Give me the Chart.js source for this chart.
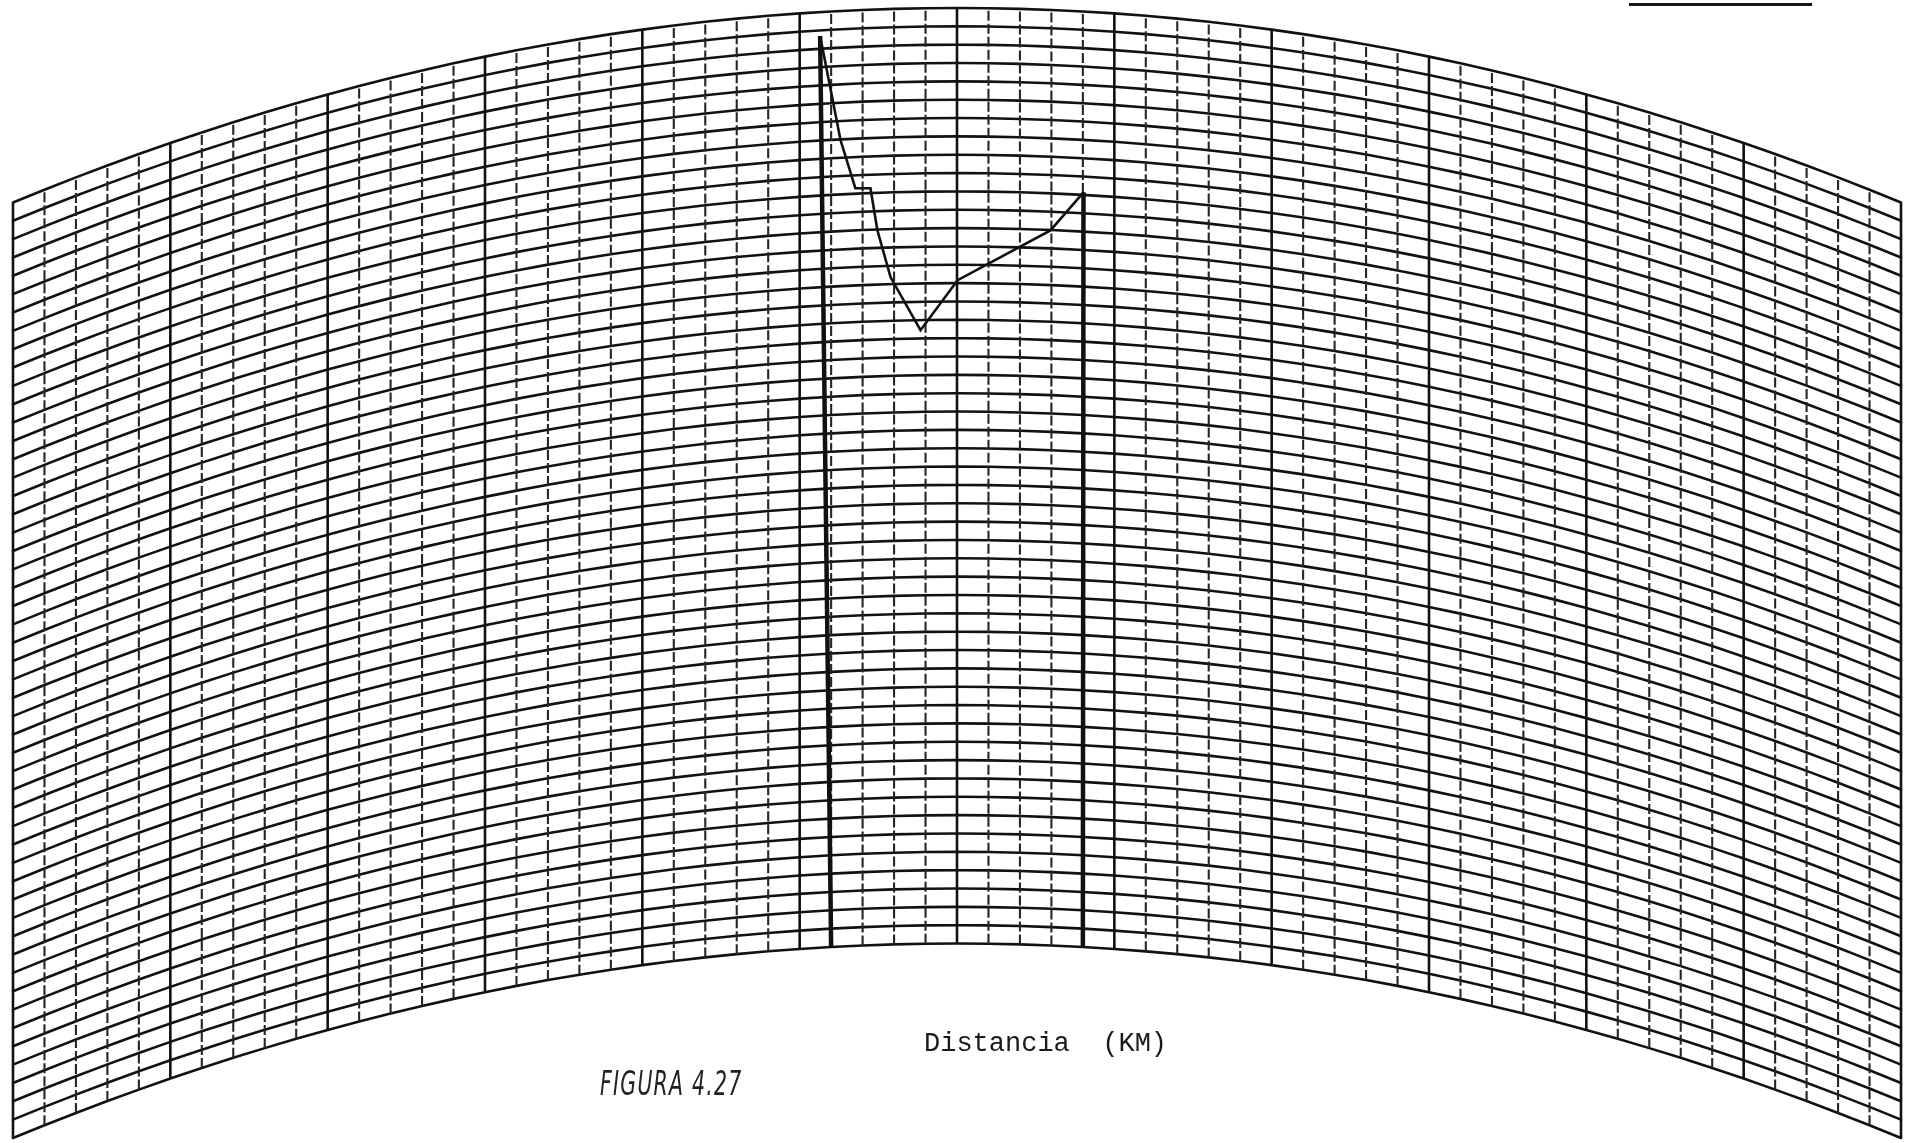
<!DOCTYPE html>
<html>
<head>
<meta charset="utf-8">
<script src="https://cdn.jsdelivr.net/npm/chart.js@4.4.1/dist/chart.umd.min.js"></script>
<style>
  html, body { margin: 0; padding: 0; background: #fff; }
  #wrap { position: relative; width: 1917px; height: 1143px; overflow: hidden; }
  .label { position: absolute; color: #1a1a1a; white-space: pre; line-height: 1; }
  #axisLabel { left: 924px; top: 1029px; font: 27px "Liberation Mono", "DejaVu Sans Mono", monospace; }
  #figLabel { left: 600px; top: 1064px; font: italic 33px "DejaVu Sans", sans-serif; letter-spacing: 2px;
              transform: scaleX(0.62); transform-origin: left top; color: #222; }
  #pageRule { position: absolute; left: 1629px; top: 3px; width: 183px; border-top: 3px solid #161616; }
</style>
</head>
<body>
<div id="wrap">
  <canvas id="profileChart"></canvas>
  <div id="pageRule"></div>
  <div class="label" id="axisLabel">Distancia  (KM)</div>
  <div class="label" id="figLabel">FIGURA 4.27</div>
</div>
<script>
// paper: 60 distance divisions, 51 height divisions, earth bulge at mid-path
const distanceCols = 60;
const heightRows = 51;
const bulgeRows = 10.6;

// terrain profile between the two stations (distance, height in paper rows)
const profileKm = [25.65, 26.3, 26.77, 27.25, 27.47, 27.89, 28.84, 30.02, 32.97, 34.02];
const profileHeight = [49.7, 43.95, 41.3, 41.26, 38.96, 36.37, 33.45, 36.16, 38.98, 41.14];

// station positions on the base line
const stationKm = [26, 34];

function bulge(d) {
  return bulgeRows * d * (distanceCols - d) / ((distanceCols / 2) ** 2);
}

const profilePoints = profileKm.map((d, i) => ({ x: d, y: profileHeight[i] + bulge(d) }));
const leftStation = [
  { x: stationKm[0], y: bulge(stationKm[0]) },
  profilePoints[0]
];
const rightStation = [
  { x: stationKm[1], y: bulge(stationKm[1]) },
  profilePoints[profilePoints.length - 1]
];

// curved-earth grid drawn under the datasets
const curvedPaper = {
  id: 'curvedPaper',
  beforeDatasetsDraw(chart) {
    const ctx = chart.ctx;
    const xs = chart.scales.x, ys = chart.scales.y;
    ctx.save();
    ctx.lineJoin = 'round';
    ctx.lineCap = 'round';

    // lines of constant height
    ctx.strokeStyle = '#111';
    ctx.lineWidth = 2.6;
    for (let h = 0; h <= heightRows; h++) {
      ctx.beginPath();
      for (let c = 0; c <= distanceCols; c++) {
        const px = xs.getPixelForValue(c);
        const py = ys.getPixelForValue(h + bulge(c));
        if (c === 0) ctx.moveTo(px, py); else ctx.lineTo(px, py);
      }
      ctx.stroke();
    }

    // distance lines, solid every fifth
    ctx.lineCap = 'butt';
    for (let c = 0; c <= distanceCols; c++) {
      const major = c % 5 === 0;
      ctx.lineWidth = major ? 2.6 : 2.1;
      ctx.strokeStyle = major ? '#111' : '#262626';
      ctx.setLineDash(major ? [] : [10, 3]);
      const px = xs.getPixelForValue(c);
      ctx.beginPath();
      ctx.moveTo(px, ys.getPixelForValue(bulge(c)));
      ctx.lineTo(px, ys.getPixelForValue(heightRows + bulge(c)));
      ctx.stroke();
    }
    ctx.restore();
  }
};

const canvas = document.getElementById('profileChart');
canvas.width = 1917;
canvas.height = 1143;

new Chart(canvas.getContext('2d'), {
  type: 'scatter',
  data: {
    datasets: [
      {
        label: 'Perfil',
        data: profilePoints,
        showLine: true,
        borderColor: '#111',
        borderWidth: 2.6,
        pointRadius: 0,
        tension: 0
      },
      {
        label: 'Estación A',
        data: leftStation,
        showLine: true,
        borderColor: '#111',
        borderWidth: 4.5,
        pointRadius: 0
      },
      {
        label: 'Estación B',
        data: rightStation,
        showLine: true,
        borderColor: '#111',
        borderWidth: 4.5,
        pointRadius: 0
      }
    ]
  },
  options: {
    responsive: false,
    animation: false,
    layout: { padding: { left: 13, right: 16, top: 8, bottom: 5 } },
    plugins: { legend: { display: false }, tooltip: { enabled: false } },
    scales: {
      x: { type: 'linear', min: 0, max: distanceCols, display: false },
      y: { type: 'linear', min: 0, max: heightRows + bulgeRows, display: false }
    }
  },
  plugins: [curvedPaper]
});
</script>
</body>
</html>
